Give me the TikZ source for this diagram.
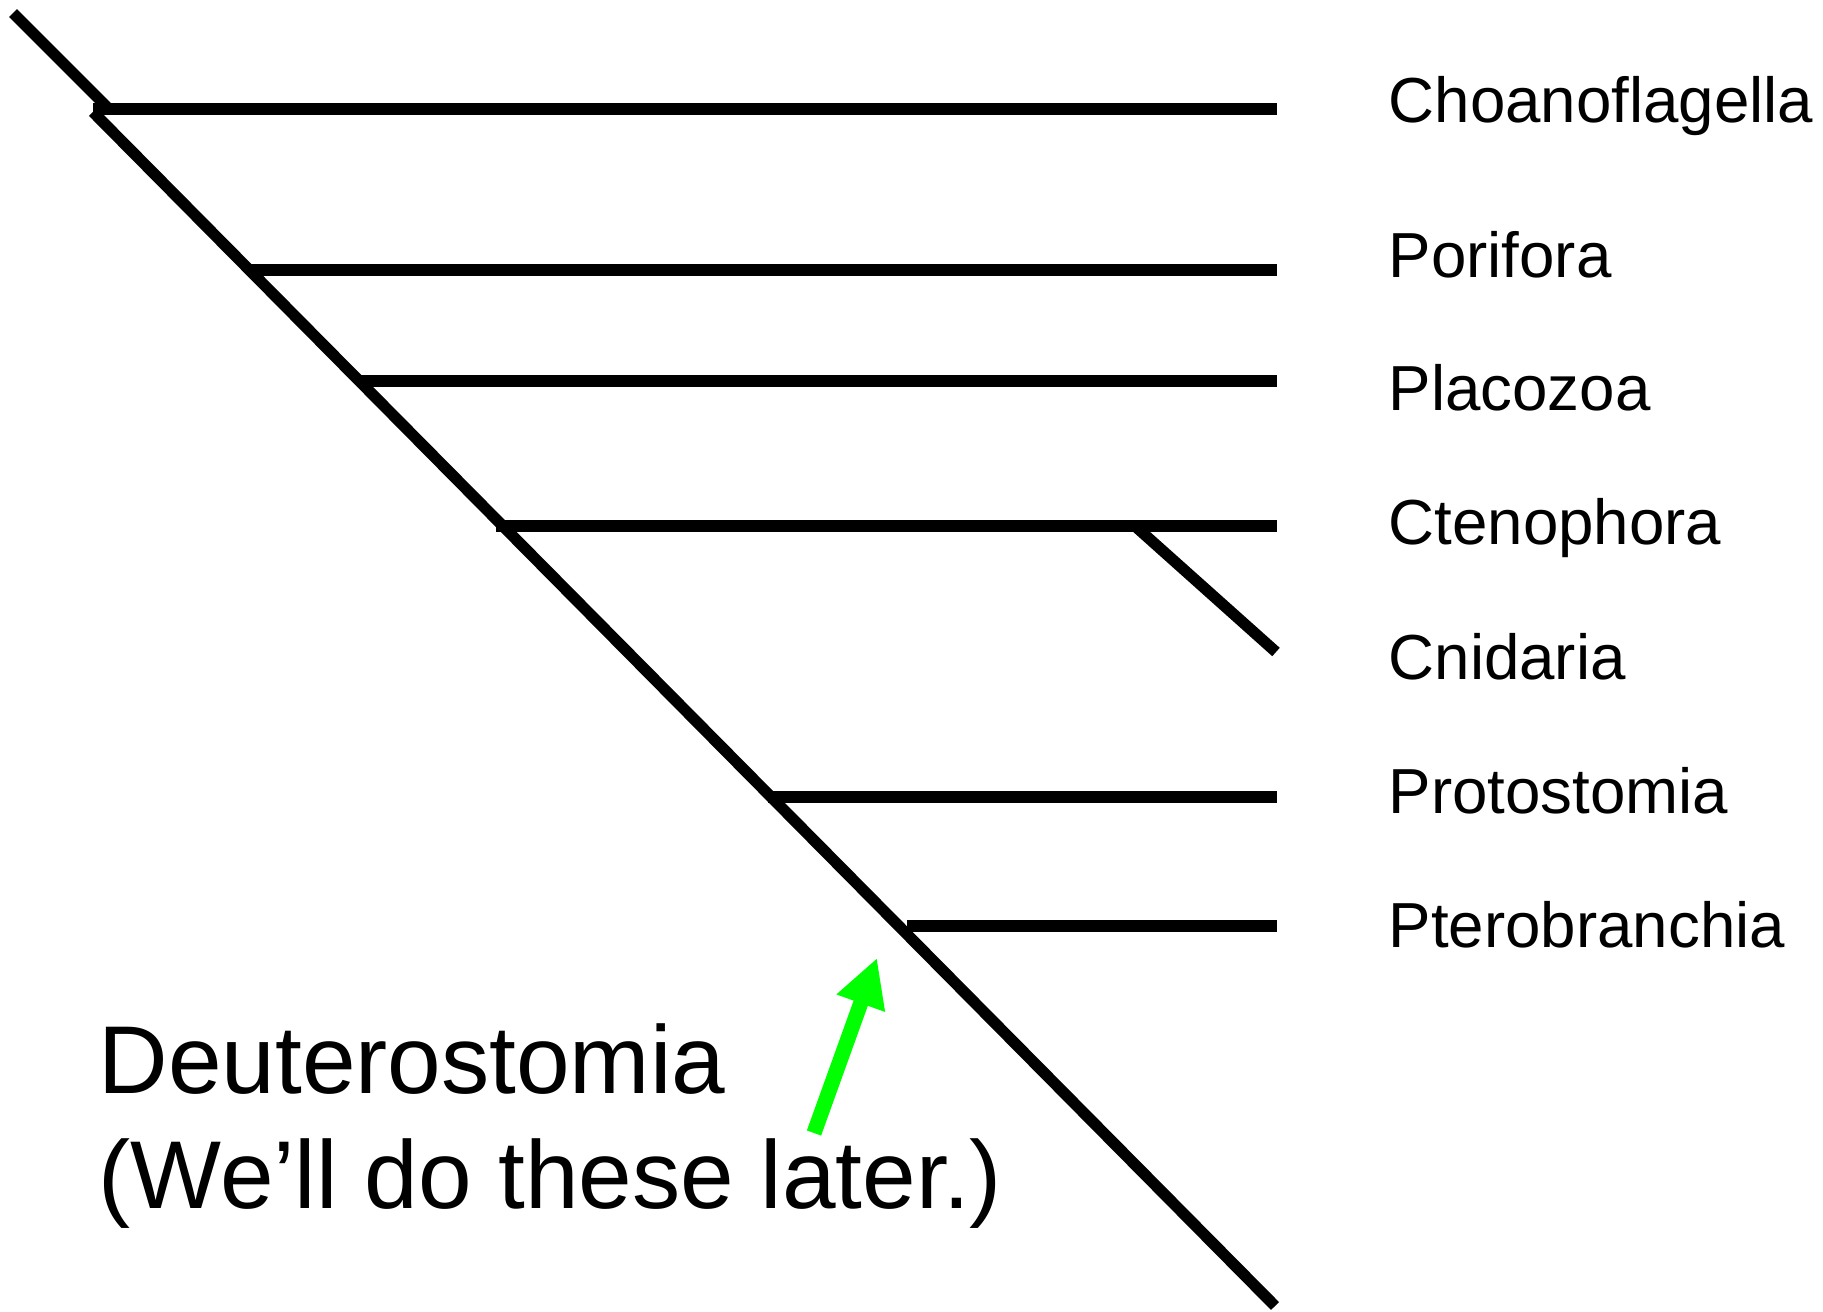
\documentclass[tikz,border=0pt]{standalone}
\usepackage{fontspec}
\setmainfont{Liberation Sans}
\usetikzlibrary{arrows.meta}

\begin{document}
\begin{tikzpicture}[
        x=0.01cm, y=-0.01cm,
        branch/.style={line width=3.2pt, black},
        taxon/.style={anchor=base west, inner sep=0pt, font=\fontsize{18.1}{22}\selectfont},
        note/.style={anchor=base west, inner sep=0pt, font=\fontsize{27.4}{33}\selectfont},
        later/.style={line width=4.3pt, green, -{Triangle[length=0.48cm, width=0.48cm]}}
    ]
        \useasboundingbox (0,0) rectangle (1823,1312);

        % Stem
        \coordinate (root) at (13,13);
        \coordinate (top) at (107,107);
        \coordinate (stem) at (93,112);
        \coordinate (bottom) at (1275,1306);
        \draw[branch] (root)--(top);
        \draw[branch] (stem)--(bottom);

        % Choanoflagella
        \coordinate (c0) at (93,109);
        \coordinate (c1) at (1277,109);
        \draw[branch] (c0)--(c1);
        \node[taxon] (choano) at (1388,122) {Choanoflagella};

        % Porifora
        \coordinate (p0) at (249,270);
        \coordinate (p1) at (1277,270);
        \draw[branch] (p0)--(p1);
        \node[taxon] (pori) at (1388,277) {Porifora};

        % Placozoa
        \coordinate (z0) at (361,381);
        \coordinate (z1) at (1277,381);
        \draw[branch] (z0)--(z1);
        \node[taxon] (placo) at (1388,410) {Placozoa};

        % Ctenophora + Cnidaria
        \coordinate (t0) at (496,526);
        \coordinate (t1) at (1277,526);
        \coordinate (fork) at (1135,526);
        \coordinate (n1) at (1276,652);
        \draw[branch] (t0)--(t1);
        \draw[branch] (fork)--(n1);
        \node[taxon] (cteno) at (1388,544) {Ctenophora};
        \node[taxon] (cnid) at (1388,679) {Cnidaria};

        % Protostomia
        \coordinate (r0) at (768,797);
        \coordinate (r1) at (1277,797);
        \draw[branch] (r0)--(r1);
        \node[taxon] (proto) at (1388,813) {Protostomia};

        % Pterobranchia
        \coordinate (b0) at (907,926);
        \coordinate (b1) at (1277,926);
        \draw[branch] (b0)--(b1);
        \node[taxon] (ptero) at (1388,947) {Pterobranchia};

        % Deuterostomia
        \node[note] (deut) at (98,1093) {Deuterostomia};
        \node[note] (laterline) at (98,1208) {(We’ll do these later.)};
        \coordinate (tail) at (814,1133);
        \coordinate (head) at (877,958);
        \draw[later] (tail)--(head);
    \end{tikzpicture}
\end{document}
